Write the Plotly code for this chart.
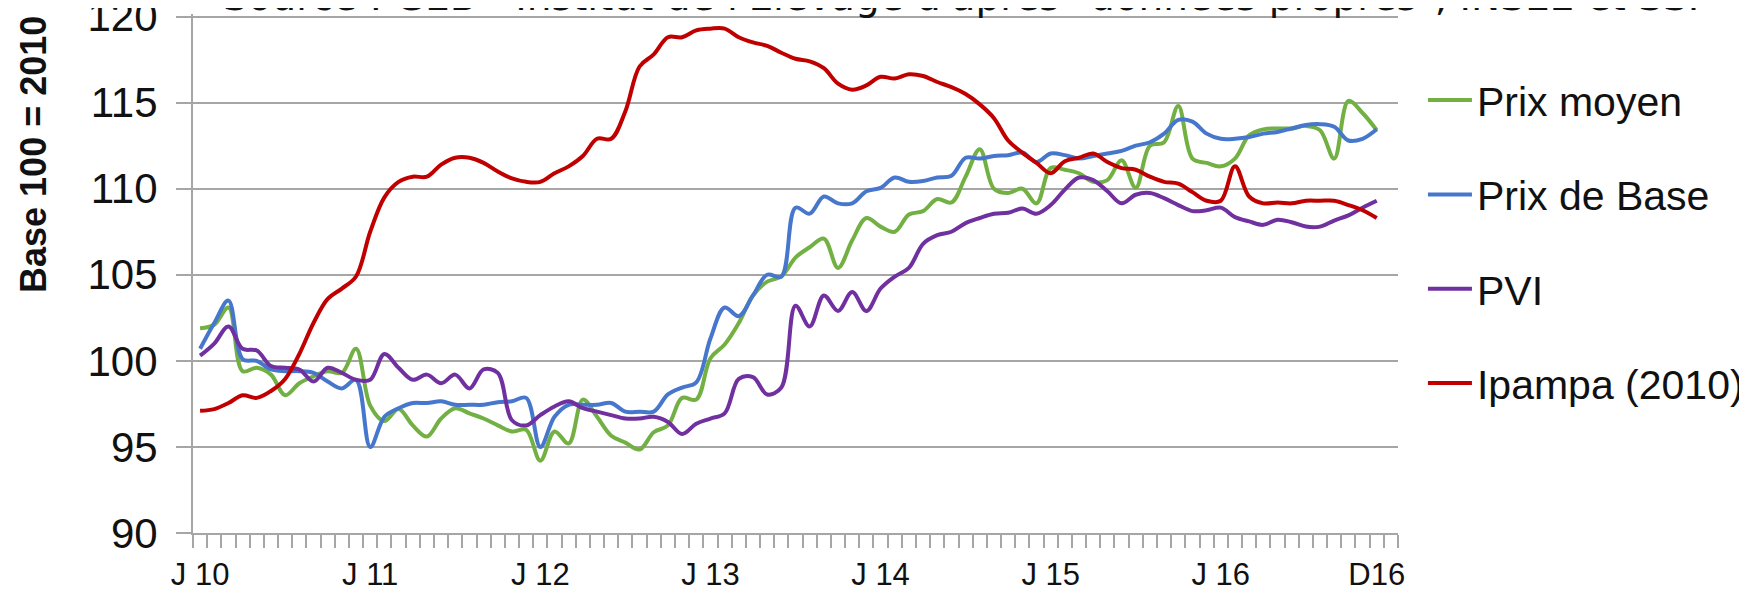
import plotly.graph_objects as go

# monthly index, base 100 = 2010, Jan 2010 .. Dec 2016
years = [2010, 2011, 2012, 2013, 2014, 2015, 2016]
months = [f"{y}-{m:02d}" for y in years for m in range(1, 13)]

prix_moyen = [
    101.9, 102.1, 103.1, 99.4, 99.6, 99.2, 98.0, 98.7, 99.1, 99.4, 99.3, 100.7,
    97.4, 96.5, 97.2, 96.25, 95.6, 96.65, 97.25, 96.95, 96.65, 96.25, 95.9, 96.0,
    94.2, 95.9, 95.2, 97.75, 96.75, 95.65, 95.25, 94.85, 95.85, 96.25, 97.85, 97.75,
    100.15, 100.95, 102.2, 103.8, 104.6, 104.9, 106.0, 106.6, 107.1, 105.4, 107.0, 108.3,
    107.8, 107.5, 108.5, 108.7, 109.4, 109.2, 110.7, 112.3, 110.0, 109.75, 110.0, 109.15,
    111.2, 111.1, 110.9, 110.4, 110.5, 111.65, 110.05, 112.5, 112.7, 114.8, 111.75, 111.5,
    111.3, 111.75, 113.1, 113.45, 113.5, 113.5, 113.65, 113.4, 111.75, 115.1, 114.4, 113.4,
]
prix_base = [
    100.7, 102.2, 103.5, 100.1, 100.0, 99.5, 99.4, 99.4, 99.3, 98.8, 98.4, 98.9,
    95.0, 96.75, 97.25, 97.55, 97.55, 97.65, 97.45, 97.45, 97.45, 97.6, 97.65, 97.85,
    95.0, 96.75, 97.45, 97.45, 97.45, 97.55, 97.05, 97.05, 97.05, 98.05, 98.45, 98.75,
    101.3, 103.1, 102.6, 103.8, 105.0, 104.9, 108.9, 108.55, 109.55, 109.15, 109.15, 109.85,
    110.05, 110.65, 110.4, 110.45, 110.65, 110.75, 111.8, 111.75, 111.9, 111.95, 112.1, 111.55,
    112.05, 111.95, 111.75, 111.9, 112.05, 112.2, 112.5, 112.7, 113.2, 114.0, 113.9, 113.2,
    112.9, 112.9, 113.0, 113.2, 113.3, 113.5, 113.7, 113.75, 113.6, 112.8, 112.9, 113.45,
]
pvi = [
    100.3, 101.0, 102.0, 100.7, 100.6, 99.7, 99.6, 99.5, 98.8, 99.6, 99.3, 98.9,
    98.9, 100.4, 99.6, 98.9, 99.2, 98.7, 99.2, 98.4, 99.5, 99.3, 96.55, 96.25,
    96.85, 97.35, 97.65, 97.25, 97.05, 96.85, 96.65, 96.65, 96.75, 96.45, 95.75, 96.35,
    96.65, 96.95, 98.95, 99.05, 98.05, 98.45, 103.2, 102.0, 103.8, 102.9, 104.0, 102.9,
    104.2, 104.9, 105.4, 106.8, 107.3, 107.5, 108.0, 108.3, 108.55, 108.6, 108.85, 108.55,
    109.05, 109.95, 110.65, 110.5, 109.85, 109.15, 109.65, 109.75, 109.45, 109.05, 108.7, 108.75,
    108.9, 108.35, 108.1, 107.9, 108.2, 108.05, 107.8, 107.8, 108.15, 108.45, 108.9, 109.3,
]
ipampa = [
    97.1, 97.2, 97.55, 98.0, 97.85, 98.25, 98.95, 100.4, 102.2, 103.6, 104.2, 104.9,
    107.5, 109.5, 110.4, 110.7, 110.7, 111.4, 111.8, 111.8, 111.5, 111.0, 110.6, 110.4,
    110.4, 110.9, 111.3, 111.9, 112.9, 112.9, 114.5, 117.1, 117.8, 118.8, 118.8, 119.2,
    119.3, 119.3, 118.8, 118.5, 118.3, 117.9, 117.55, 117.4, 117.0, 116.1, 115.75, 116.0,
    116.5, 116.4, 116.65, 116.55, 116.2, 115.9, 115.5, 114.9, 114.1, 112.8, 112.1, 111.5,
    110.9, 111.6, 111.8, 112.05, 111.55, 111.2, 111.1, 110.7, 110.4, 110.3, 109.8, 109.3,
    109.3, 111.3, 109.55, 109.15, 109.2, 109.15, 109.3, 109.3, 109.3, 109.05, 108.75, 108.3,
]

tick_months = ["2010-01", "2011-01", "2012-01", "2013-01", "2014-01", "2015-01", "2016-01", "2016-12"]
tick_labels = ["J 10", "J 11", "J 12", "J 13", "J 14", "J 15", "J 16", "D16"]

series = [
    ("Prix moyen", prix_moyen, "#72B043"),
    ("Prix de Base", prix_base, "#4677CC"),
    ("PVI", pvi, "#7030A0"),
    ("Ipampa (2010)", ipampa, "#C00000"),
]

FONT = "Liberation Sans Narrow, Liberation Sans, Arial, sans-serif"
GRID = "#A6A6A6"
INK = "#111111"

x = list(range(len(months)))

fig = go.Figure()
for name, vals, color in series:
    fig.add_trace(go.Scatter(
        x=x, y=vals, name=name, mode="lines", legendgroup=name,
        line=dict(color=color, width=4, shape="spline", smoothing=1),
    ))

# page body adds an 8px margin, so the figure is 16px smaller than the window
fig.update_layout(
    width=1731, height=580,
    margin=dict(l=185, r=341, t=5.9, b=54.5, autoexpand=False),
    paper_bgcolor="white", plot_bgcolor="white",
    font=dict(family=FONT, size=41, color=INK),
    legend=dict(
        x=1.0207, y=0.898, xanchor="left", yanchor="top",
        traceorder="grouped", tracegroupgap=38, itemwidth=44,
        font=dict(family=FONT, size=41, color=INK),
        bgcolor="rgba(0,0,0,0)",
    ),
    xaxis=dict(
        range=[-0.5, len(months) + 0.5],
        tickmode="array",
        tickvals=[months.index(m) for m in tick_months],
        ticktext=tick_labels,
        ticks="", showgrid=False, zeroline=False, automargin=False,
        showline=True, linecolor=GRID, linewidth=2,
        tickfont=dict(family=FONT, size=31, color=INK),
        ticklabelstandoff=13, ticklabeloverflow="allow",
        minor=dict(tick0=-0.5, dtick=1, ticks="outside", ticklen=13,
                   tickcolor=GRID, tickwidth=2, showgrid=False),
    ),
    yaxis=dict(
        range=[90, 120.15], tickvals=[90, 95, 100, 105, 110, 115, 120],
        ticks="outside", ticklen=15, tickcolor=GRID, tickwidth=2,
        showgrid=True, gridcolor=GRID, gridwidth=2, zeroline=False,
        showline=True, linecolor=GRID, linewidth=2, automargin=False,
        tickfont=dict(family=FONT, size=42, color=INK),
        ticklabelstandoff=10, ticklabeloverflow="allow",
    ),
    annotations=[
        dict(text="Base 100 = 2010", textangle=-90, showarrow=False,
             xref="paper", yref="paper", x=-0.133, y=0.7298,
             xanchor="center", yanchor="middle",
             font=dict(family=FONT, size=36, color=INK, weight="bold")),
        dict(text="Source : GEB - Institut de l'Elevage d'après \"données propres\", INSEE et SSP",
             showarrow=False, xref="paper", yref="paper", x=0.6421, y=0.9873,
             xanchor="center", yanchor="bottom",
             font=dict(family="DejaVu Sans", size=39, color=INK)),
    ],
)

fig.write_html("out.html")
